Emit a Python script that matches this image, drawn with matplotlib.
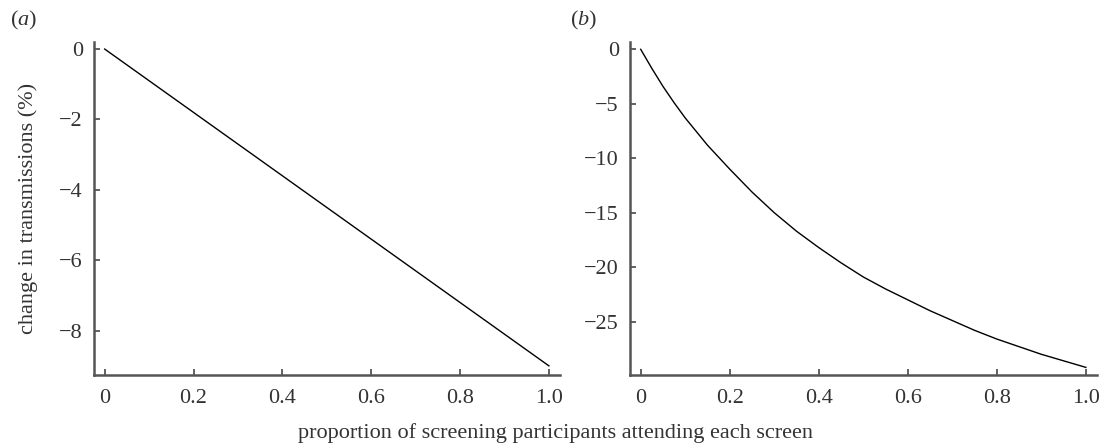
import numpy as np
import matplotlib
matplotlib.use("Agg")
import matplotlib.pyplot as plt

# proportion of screening participants attending each screen
x_a = [0.0, 0.1, 0.2, 0.3, 0.4, 0.5, 0.6, 0.7, 0.8, 0.9, 1.0]
y_a = [0.0, -0.9, -1.8, -2.7, -3.6, -4.5, -5.4, -6.3, -7.2, -8.1, -9.0]

x_b = [0.0, 0.025, 0.05, 0.075, 0.1, 0.15, 0.2, 0.25, 0.3, 0.35, 0.4, 0.45, 0.5,
       0.55, 0.6, 0.65, 0.7, 0.75, 0.8, 0.85, 0.9, 0.95, 1.0]
y_b = [0.0, -1.75, -3.4, -4.9, -6.3, -8.8, -11.0, -13.1, -15.0, -16.7, -18.2, -19.6, -20.9,
       -22.0, -23.0, -24.0, -24.9, -25.8, -26.6, -27.3, -28.0, -28.6, -29.2]

xticks = [0, 0.2, 0.4, 0.6, 0.8, 1.0]
xticklabels = ['0', '0.2', '0.4', '0.6', '0.8', '1.0']
yticks_a = [0, -2, -4, -6, -8]
yticks_b = [0, -5, -10, -15, -20, -25]

plt.rcParams['font.family'] = ['Liberation Serif', 'DejaVu Serif']
plt.rcParams['mathtext.fontset'] = 'custom'
plt.rcParams['mathtext.rm'] = 'Liberation Serif'
plt.rcParams['mathtext.it'] = 'Liberation Serif:italic'

txt = '#333333'
spine_col = '#555555'
fs = 16

fig = plt.figure(figsize=(11.1, 4.48), dpi=100)
ax1 = fig.add_axes([94/1110, 1-375/448, (560-94)/1110, (375-42)/448])
ax2 = fig.add_axes([630/1110, 1-375/448, (1097-630)/1110, (375-42)/448])

ax1.plot(x_a, y_a, color='black', lw=1.0)
ax2.plot(x_b, y_b, color='black', lw=1.0)

ax1.set_ylim(-9.26, 0.2)
ax2.set_ylim(-29.9, 0.67)

for ax, yt in [(ax1, yticks_a), (ax2, yticks_b)]:
    ax.set_xlim(-0.024, 1.025)
    ax.set_xticks(xticks)
    ax.set_xticklabels(xticklabels)
    ax.set_yticks(yt)
    for s in ['top', 'right']:
        ax.spines[s].set_visible(False)
    for s in ['left', 'bottom']:
        ax.spines[s].set_color(spine_col)
        ax.spines[s].set_linewidth(1.8)
    ax.tick_params(direction='in', length=4, width=1.3, color=spine_col,
                   labelsize=fs, labelcolor=txt)
    ax.tick_params(axis='x', pad=10)
    ax.tick_params(axis='y', pad=8)

ax1.set_ylabel('change in transmissions (%)', fontsize=fs, color=txt)
ax1.yaxis.set_label_coords(-0.12, 0.5)

fig.text(10/1110, 1-20/448, r'($\mathit{a}$)', fontsize=fs, color=txt, va='center', ha='left')
fig.text(570/1110, 1-20/448, r'($\mathit{b}$)', fontsize=fs, color=txt, va='center', ha='left')

fig.text(555/1110, 1-433/448, 'proportion of screening participants attending each screen',
         fontsize=fs, color=txt, ha='center', va='center')

fig.savefig('out.png', dpi=100)
